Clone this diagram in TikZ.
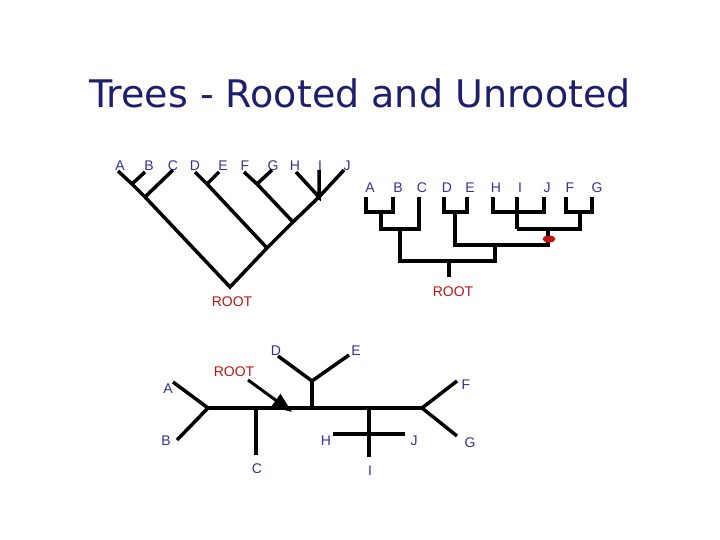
\documentclass[tikz,border=0pt]{standalone}
\usepackage{fontspec}
\setmainfont{Liberation Sans}
\newfontfamily\titlefont{DejaVu Sans}
\usetikzlibrary{arrows.meta,shapes.geometric}
\definecolor{lblue}{RGB}{50,50,150}
\definecolor{tblue}{RGB}{30,30,110}
\definecolor{rred}{RGB}{190,20,20}
\begin{document}
\begin{tikzpicture}[x=1pt,y=-1pt,
  br/.style={line width=3.5pt,black},
  lbl/.style={text=lblue,font=\fontsize{14}{14}\selectfont,inner sep=0pt},
  rt/.style={text=rred,font=\fontsize{14}{14}\selectfont,inner sep=0pt}]
\useasboundingbox (0,0) rectangle (720,540);
\node[text=tblue,font=\titlefont\fontsize{38}{38}\selectfont,inner sep=0pt] (title) at (360,93) {Trees - Rooted and Unrooted};
% top-left tree
\foreach \n/\x in {A/120,B/149,C/173,D/195,E/223,F/245,G/273,H/295,I/320,J/347}
  \node[lbl] (l\n) at (\x,166) {\n};
\coordinate (r1) at (230,287);
\coordinate (ab) at (132,184); \coordinate (abc) at (145,197);
\coordinate (de) at (207,184); \coordinate (dr) at (267,248);
\coordinate (fg) at (257,184); \coordinate (fr) at (293,222);
\coordinate (hij) at (319,197);
\draw[br] (118,171) -- (ab) -- (abc) -- (r1) -- (dr) -- (fr) -- (hij) -- (344,170);
\draw[br] (ab) -- (145,172); \draw[br] (abc) -- (173,170);
\draw[br] (195,172) -- (de) -- (dr); \draw[br] (de) -- (219,172);
\draw[br] (244,172) -- (fg) -- (fr); \draw[br] (fg) -- (272,170);
\draw[br] (296,172) -- (hij) -- (319,170);
\node[rt] (root1) at (232,302) {ROOT};
% top-right tree
\foreach \n/\x in {A/370,B/398,C/422,D/447,E/470,H/496,I/520,J/547,F/570,G/597}
  \node[lbl] (m\n) at (\x,188) {\n};
\draw[br] (366,197) |- (381,212) -| (393,197);
\draw[br] (381,212) |- (400,229) -| (419,197);
\draw[br] (444,197) |- (455,212) -| (467,197);
\draw[br] (493,197) |- (517,212) -| (544,197);
\draw[br] (517,197) -- (517,229);
\draw[br] (566,197) |- (580,212) -| (592,197);
\draw[br] (517,229) -- (580,229) -- (580,212);
\draw[br] (548,229) |- (495,245) -| (455,212);
\draw[br] (400,229) |- (449,261) -| (495,245);
\draw[br] (449,261) -- (449,277);
\node[fill=rred,ellipse,minimum width=13pt,minimum height=7pt,inner sep=0pt] (blob) at (549,239) {};
\node[rt] (root2) at (453,292) {ROOT};
% bottom unrooted tree
\coordinate (nab) at (208,408); \coordinate (nfg) at (422,408);
\coordinate (nde) at (312,381);
\draw[br] (nab) -- (nfg);
\draw[br] (173,382) -- (nab) -- (177,440);
\draw[br] (256,408) -- (256,455);
\draw[br] (312,408) -- (nde); \draw[br] (278,356) -- (nde) -- (349,355);
\draw[br] (369,408) -- (369,457); \draw[br] (333,434) -- (405,434);
\draw[br] (457,381) -- (nfg) -- (457,436);
\draw[line width=3pt,-{Triangle[length=20pt,width=15pt]}] (248,380) -- (292,412);
\node[rt] (root3) at (234,372) {ROOT};
\foreach \n/\x/\y in {A/168/389,B/166/441,C/257/469,D/276/351,E/356/351,F/466/385,G/470/443,H/326/441,J/414/441,I/370/471}
  \node[lbl] (b\n) at (\x,\y) {\n};
\end{tikzpicture}
\end{document}
